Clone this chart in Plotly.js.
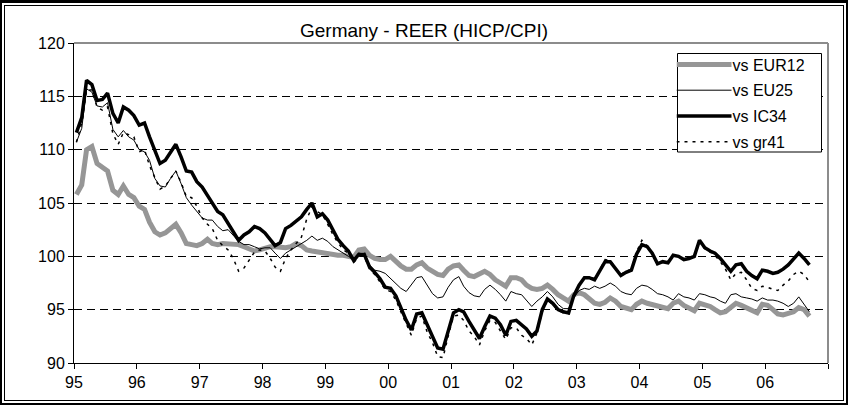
<!DOCTYPE html>
<html>
<head>
<meta charset="utf-8">
<script src="https://cdn.plot.ly/plotly-3.0.1.min.js"></script>
<style>
html,body{margin:0;padding:0;background:#fff;}
#wrap{position:relative;width:848px;height:405px;overflow:hidden;background:#fff;}
#chart{position:absolute;left:0;top:0;width:848px;height:405px;}
.frame{position:absolute;pointer-events:none;box-sizing:border-box;}
#f1{left:0;top:0;width:848px;height:405px;border:2px solid #000;border-top-width:3px;}
#f2{left:4px;top:5px;width:840px;height:396px;border:1px solid #000;}
</style>
</head>
<body>
<div id="wrap"><div id="chart"></div><div class="frame" id="f1"></div><div class="frame" id="f2"></div></div>
<script>
// Monthly data, starting January 1995
const startYear = 1995;
const chartTitle = 'Germany - REER (HICP/CPI)';
const seriesNames = ['vs EUR12', 'vs EU25', 'vs IC34', 'vs gr41'];
const yearLabels = ['95','96','97','98','99','00','01','02','03','04','05','06'];

const eur12 = [
105.8,106.7,110.0,110.3,108.7,108.3,108.0,106.2,105.8,106.6,105.8,105.5,
104.7,104.4,103.2,102.3,102.0,102.2,102.6,103.0,102.2,101.2,101.1,101.0,
101.2,101.6,101.2,101.1,101.2,101.2,101.2,101.1,100.9,100.7,100.5,100.6,
100.8,100.9,100.9,100.8,100.8,100.9,101.2,101.0,100.6,100.5,100.4,100.4,
100.3,100.2,100.1,100.1,100.0,99.9,100.6,100.7,100.1,99.8,99.7,99.7,
100.0,99.5,99.1,98.8,98.8,99.2,99.4,98.9,98.6,98.3,98.2,98.8,
99.1,99.2,98.7,98.2,98.1,98.3,98.6,98.3,97.8,97.5,97.2,98.0,
98.0,97.8,97.3,97.0,96.9,97.0,97.3,96.9,96.4,96.1,95.8,96.4,
96.6,96.4,96.0,95.6,95.5,95.7,96.1,95.8,95.3,95.1,95.0,95.5,
95.8,95.6,95.5,95.3,95.3,95.1,95.6,95.8,95.4,95.1,94.9,95.6,
95.5,95.3,95.0,94.7,94.8,95.2,95.6,95.4,95.2,94.9,94.7,95.5,
95.4,95.0,94.6,94.5,94.6,94.8,95.2,95.0,94.4];

const eu25 = [
110.7,112.0,115.7,115.4,114.1,114.0,114.4,111.9,111.2,111.8,111.2,110.9,
110.0,109.8,109.0,107.3,106.6,106.5,107.3,108.0,106.8,105.5,104.8,104.2,
103.6,103.4,103.4,102.8,102.4,102.5,102.0,101.4,101.1,101.1,100.9,100.7,
100.8,100.8,100.3,99.8,100.3,100.6,100.9,101.2,101.5,101.9,101.5,101.7,
101.4,100.9,100.6,100.3,100.0,99.7,100.3,100.0,99.2,98.7,98.6,98.4,
97.9,97.4,97.0,96.7,97.3,98.0,98.1,97.3,96.5,96.1,96.2,97.1,
97.8,98.1,97.2,96.6,96.3,96.2,96.9,97.3,96.9,96.4,95.8,96.7,
96.5,96.4,95.9,95.3,95.8,96.2,96.7,96.2,95.5,95.1,95.1,96.1,
96.8,97.0,96.9,97.2,97.0,97.2,97.5,97.2,96.7,96.5,96.4,97.0,
97.3,97.2,96.9,96.5,96.4,96.2,95.9,96.5,96.2,96.1,95.9,96.5,
96.4,96.2,96.1,95.8,95.6,96.4,96.5,96.2,96.1,96.0,95.8,96.1,
95.9,95.9,95.8,95.6,95.3,95.6,96.2,95.5,94.8];

const ic34 = [
111.6,113.0,116.5,116.1,114.6,114.7,115.3,113.4,112.5,114.0,113.7,113.2,
112.3,112.5,111.2,110.0,108.7,109.0,109.8,110.5,109.3,108.0,107.9,107.0,
106.5,105.7,105.0,104.2,103.9,103.1,102.2,101.5,102.0,102.3,102.8,102.6,
102.2,101.6,101.0,101.3,102.6,102.9,103.3,103.7,104.4,105.0,103.7,104.0,
103.4,102.5,101.6,101.0,100.5,99.6,100.2,100.2,99.0,98.5,97.9,97.1,
97.0,96.3,95.2,94.0,93.1,94.6,94.7,93.6,92.4,91.4,91.3,93.0,
94.7,95.0,94.8,93.9,93.1,92.3,93.4,94.4,94.2,93.6,92.6,93.9,
94.0,93.6,93.2,92.5,93.0,95.0,96.0,95.6,95.0,94.8,94.7,96.3,
97.3,98.0,98.0,97.8,98.6,99.5,99.5,98.8,98.2,98.5,98.7,100.2,
101.1,100.9,100.3,99.3,99.5,99.4,100.1,100.0,99.7,99.8,100.0,101.5,
100.8,100.5,100.3,99.8,99.2,98.6,99.2,99.3,98.6,98.2,97.9,98.7,
98.6,98.4,98.5,98.8,99.2,99.7,100.3,99.8,99.2];

const gr41 = [
110.7,112.5,115.6,115.6,114.0,113.7,114.0,111.5,110.5,111.6,111.4,111.2,
109.8,110.0,108.5,107.3,106.3,106.6,107.3,108.0,106.9,105.6,105.5,104.7,
103.6,103.0,102.6,101.5,101.0,100.6,99.8,98.6,98.9,99.6,100.4,100.6,
100.5,99.8,99.0,98.6,99.8,100.6,101.2,101.8,103.5,104.6,104.2,103.9,
103.0,102.0,101.3,100.6,100.3,99.4,100.0,100.0,98.8,98.3,97.6,96.9,
96.7,95.9,94.8,93.6,92.6,94.2,94.4,92.9,91.9,90.6,90.5,92.5,
94.4,94.5,94.0,93.0,92.5,91.7,93.0,94.0,93.8,93.0,92.2,93.3,
93.3,92.6,92.3,91.7,92.8,94.8,95.9,95.5,94.9,94.7,94.6,96.3,
97.3,98.0,98.1,97.9,98.7,99.7,99.6,98.9,98.3,98.6,98.8,100.4,
101.5,101.0,100.3,99.3,99.5,99.4,100.1,100.0,99.7,99.8,99.9,101.4,
100.7,100.4,100.1,99.5,98.8,97.8,98.4,98.5,97.8,97.0,96.8,97.2,
97.1,96.9,96.8,97.3,97.7,98.3,98.6,98.3,97.6];

function monthDate(i) {
  const y = startYear + Math.floor(i / 12);
  const m = (i % 12) + 1;
  return y + '-' + (m < 10 ? '0' + m : m) + '-15';
}
const dates = eur12.map((_, i) => monthDate(i));
const endYear = startYear + yearLabels.length;
// year ticks (the closing tick at the right edge carries no label)
const tickVals = yearLabels.map((_, i) => (startYear + i) + '-01-01').concat([endYear + '-01-01']);
const tickText = yearLabels.concat(['']);

const styles = [
  {color: '#969696', width: 5, dash: 'solid'},
  {color: '#000000', width: 1, dash: 'solid'},
  {color: '#000000', width: 3.5, dash: 'solid'},
  {color: '#000000', width: 1.5, dash: '3px,5px'}
];
const values = [eur12, eu25, ic34, gr41];

const traces = values.map((v, k) => ({
  type: 'scatter', mode: 'lines', name: seriesNames[k], legendgroup: 'g' + k,
  x: dates, y: v,
  line: {color: styles[k].color, width: styles[k].width, dash: styles[k].dash}
}));

// plot area: 74..828 px wide, 43..363 px tall
const PL = 74, PW = 754, PT = 43, PH = 320;
const px = v => (v - PL) / PW;
const py = v => (PT + PH - v) / PH;

const font = 'Arial, "Liberation Sans", sans-serif';
const layout = {
  width: 848, height: 405,
  margin: {l: 74, r: 20, t: 43, b: 42, pad: 0},
  paper_bgcolor: '#ffffff', plot_bgcolor: '#ffffff',
  font: {family: font, size: 16, color: '#000'},
  title: {text: chartTitle, x: 0.5, xref: 'container', xanchor: 'center',
          y: 1 - 30.5 / 405, yref: 'container', yanchor: 'middle',
          font: {family: font, size: 19, color: '#000'}},
  xaxis: {type: 'date', range: [startYear + '-01-01', endYear + '-01-01'],
          tickmode: 'array', tickvals: tickVals, ticktext: tickText,
          ticks: 'outside', ticklen: 5, tickcolor: '#000', tickwidth: 1,
          showline: true, linecolor: '#000', linewidth: 1,
          showgrid: false, zeroline: false, tickfont: {size: 16}},
  yaxis: {range: [90, 120], tickmode: 'linear', tick0: 90, dtick: 5,
          ticks: 'outside', ticklen: 5, tickcolor: '#000', tickwidth: 1,
          showline: true, linecolor: '#000', linewidth: 1,
          showgrid: true, gridcolor: '#000', gridwidth: 1, griddash: '8px,5px',
          zeroline: false, tickfont: {size: 16}},
  legend: {x: px(676.5), y: py(47.5), xanchor: 'left', yanchor: 'top',
           borderwidth: 0, bgcolor: 'rgba(0,0,0,0)',
           font: {family: font, size: 16, color: '#000'}, itemwidth: 46, tracegroupgap: 2},
  shapes: [
    {type: 'line', xref: 'paper', yref: 'paper', x0: 0, x1: 1, y0: 1, y1: 1,
     line: {color: '#8c8c8c', width: 2}, layer: 'above'},
    {type: 'line', xref: 'paper', yref: 'paper', x0: 1, x1: 1, y0: 0, y1: 1,
     line: {color: '#8c8c8c', width: 2}, layer: 'above'},
    {type: 'rect', xref: 'paper', yref: 'paper', x0: px(677.5), x1: px(821.5), y0: py(152), y1: py(53.5),
     line: {color: '#000', width: 1}, fillcolor: '#fff', layer: 'above'}
  ],
  showlegend: true
};

Plotly.newPlot('chart', traces, layout, {staticPlot: true, displayModeBar: false}).then(() => {
  // lengthen the legend line samples to match the original legend
  document.querySelectorAll('#chart .legend path.js-line').forEach(p => p.setAttribute('d', 'M0,0h55'));
});
</script>
</body>
</html>
